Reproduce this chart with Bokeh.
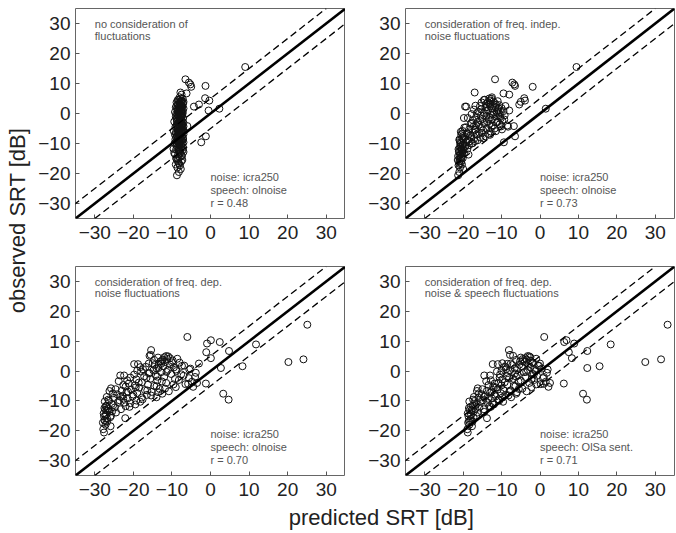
import math
from bokeh.plotting import figure
from bokeh.models import ColumnDataSource, Slope, Label, FixedTicker, Range1d
from bokeh.layouts import row, column
from bokeh.embed import file_html
from bokeh.resources import INLINE

# ---------------- data ----------------
ticks = [-30, -20, -10, 0, 10, 20, 30]
tick_labels = ["\u221230", "\u221220", "\u221210", "0", "10", "20", "30"]
axis_limits = (-35, 35)
band_db = [5, -5]

observed = [15.5, 11.4, 10.3, 9.7, 9.2, 8.9, 7.0, 6.7, 6.3, 5.1, 4.3, 3.9, 3.0, 2.3, 2.3, 1.6, 1.0, -1.5,
            -4.2, -7.6, -9.6, -15.8, -18.5, -20.6,
            -19.5, -18.0, -17.3, -16.5, -16.0, -15.2, -14.6, -14.2, -13.7, -13.5, -13.0, -12.6, -12.2, -12.0,
            -11.6, -11.2, -11.0, -10.6, -10.3, -10.0, -9.8, -9.5, -9.2, -9.0, -8.8, -8.5, -8.3, -8.0, -7.8,
            -7.6, -7.4, -7.2, -7.0, -6.8, -6.6, -6.4, -6.2, -6.0, -5.8, -5.6, -5.4, -5.2, -5.0, -4.8, -4.6,
            -4.4, -4.2, -4.0, -3.8, -3.6, -3.4, -3.2, -3.0, -2.8, -2.6, -2.4, -2.2, -2.0, -1.8, -1.6, -1.4,
            -1.2, -1.0, -0.8, -0.6, -0.4, -0.2, 0.0, 0.2, 0.4, 0.6, 0.8, 1.0, 1.2, 1.4, 1.6, 1.8, 2.0, 2.2,
            2.4, 2.6, 2.8, 3.0, 3.2, 3.5, 3.8, 4.0, 4.3, 4.6, 5.0, 5.4,
            -5.3, -4.0, -2.0, 0.5, 2.5, -4.3,
            -17.0, -15.5, -14.9, -13.9, -13.2, -12.8, -12.4, -11.8, -11.4, -10.8, -10.4, -9.9, -9.6, -9.3,
            -8.9, -8.6, -8.2, -7.9, -7.5, -7.1, -6.9, -6.5, -6.1, -5.9, -5.5, -5.1, -4.7, -4.5, -3.9, -3.5,
            -3.1, -2.7, -2.3, -1.9, -1.5, -1.1, -0.7, -0.3, 0.1, 0.5, 0.9, 1.3, 1.7, 2.1, 2.5, 2.9, 3.3, 3.7,
            4.1, 4.5, 4.9, -16.8, -15.0, -13.3, -11.9, -10.2, -8.7, -6.7]

pred_no_fluct = [9.0, -6.5, -5.6, -5.2, -1.3, -5.0, -7.8, -6.2, -7.5, -1.4, -0.3, -7.0, -3.0, -4.3, -7.5, 2.3,
                 -0.5, -8.0, -6.0, -1.2, -2.4, -8.5, -7.7, -8.7,
                 -8.2, -8.6, -7.9, -8.3, -7.6, -8.8, -8.0, -7.4, -8.4, -9.2, -7.8, -8.1, -7.2, -8.9, -7.7, -8.4,
                 -7.5, -8.0, -8.6, -7.3, -8.2, -7.9, -8.8, -7.6, -8.3, -7.1, -8.5, -7.8, -8.1, -7.4, -8.7, -7.9,
                 -8.2, -7.6, -8.0, -9.0, -7.3, -8.4, -7.7, -8.1, -7.5, -8.6, -7.9, -8.3, -7.2, -8.0, -8.8, -7.6,
                 -8.2, -7.4, -8.5, -7.8, -8.1, -7.3, -8.7, -7.9, -8.3, -7.6, -8.0, -7.2, -8.6, -7.8, -8.2, -7.5,
                 -8.4, -7.7, -8.9, -7.4, -8.1, -7.9, -8.5, -7.2, -8.0, -7.6, -8.3, -7.8, -8.7, -7.5, -8.2, -7.3,
                 -8.0, -7.7, -8.4, -7.9, -7.5, -8.1, -7.8, -7.6, -8.3, -7.7, -8.0,
                 -7.4, -8.6, -7.9, -8.3, -7.7, -7.0,
                 -9.0, -7.3, -8.9, -7.5, -9.4, -7.0, -8.3, -9.6, -7.1, -8.8, -7.6, -9.3, -7.0, -8.5, -7.4, -9.1,
                 -7.2, -8.9, -7.5, -9.2, -7.0, -8.6, -7.8, -9.5, -7.1, -8.4, -7.6, -9.1, -7.3, -8.7, -7.0, -9.4,
                 -7.6, -8.8, -7.1, -9.0, -7.4, -8.6, -7.2, -9.2, -7.5, -8.5, -7.0, -9.0, -7.4, -8.6, -7.1, -8.8,
                 -7.4, -8.5, -7.2, -8.1, -8.4, -8.0, -8.2, -8.0, -8.1, -8.3]

pred_freq_indep = [9.5, -11.7, -7.2, -6.7, -6.5, -1.9, -17.0, -9.5, -8.0, -4.1, -3.9, -5.0, -5.4, -19.5, -19.2,
                   1.5, -8.0, -19.8, -6.8, -6.5, -9.4, -20.5, -20.0, -21.3,
                   -21.0, -20.8, -21.2, -20.6, -21.0, -20.9, -20.4, -21.3, -18.6, -20.7, -20.2, -21.1, -19.9,
                   -20.5, -20.3, -19.6, -20.8, -18.5, -20.0, -17.8, -20.6, -19.2, -16.9, -20.9, -18.8, -17.2,
                   -20.2, -15.5, -19.5, -14.2, -18.1, -20.5, -16.5, -13.5, -19.0, -15.8, -17.6, -12.8, -20.2,
                   -14.8, -16.8, -18.4, -11.8, -15.2, -19.3, -8.3, -17.2, -12.2, -15.9, -10.5, -18.0, -14.5,
                   -11.2, -16.2, -13.8, -9.8, -17.5, -12.5, -15.0, -10.2, -13.0, -16.6, -11.5, -14.0, -9.2,
                   -12.8, -17.8, -10.8, -14.6, -12.0, -16.0, -9.5, -13.5, -11.0, -15.3, -12.4, -10.0, -14.2,
                   -11.6, -13.0, -16.8, -10.6, -12.9, -14.0, -11.8, -13.6, -12.2, -13.0, -14.4, -13.2, -12.5,
                   -9.9, -8.5, -9.3, -10.2, -9.0, -10.1,
                   -20.3, -21.4, -20.1, -20.9, -19.8, -21.0, -20.4, -18.9, -20.7, -19.4, -20.1, -17.5, -20.8,
                   -18.3, -16.2, -19.9, -14.8, -17.9, -20.0, -13.0, -18.6, -15.1, -20.6, -11.5, -17.0, -13.9,
                   -19.7, -12.6, -16.6, -13.2, -17.8, -11.0, -15.6, -13.4, -18.8, -10.4, -15.4, -12.2, -16.4,
                   -11.3, -14.0, -17.2, -10.8, -13.8, -15.6, -11.4, -13.2, -15.2, -11.0, -14.6, -12.6,
                   -21.0, -20.6, -20.4, -21.2, -20.7, -21.0, -20.3]

pred_freq_dep = [25.1, -6.0, 0.1, 2.4, -0.9, 11.8, -15.4, 4.8, -1.1, -15.8, 0.1, 24.1, 20.2, -19.8, -18.8, 8.3,
                 2.7, -23.4, -1.2, 3.3, 4.7, -22.1, -25.9, -27.6,
                 -27.8, -27.2, -27.9, -27.5, -26.8, -27.6, -27.0, -27.7, -26.2, -25.5, -27.3, -26.5, -24.8,
                 -21.0, -27.0, -19.5, -25.6, -22.4, -18.2, -26.3, -23.6, -17.6, -21.5, -25.0, -14.0, -20.2,
                 -22.8, -16.5, -24.2, -12.5, -19.0, -21.8, -15.2, -10.8, -23.0, -17.0, -20.6, -13.2, -25.8,
                 -18.5, -9.0, -22.0, -14.6, -19.6, -16.2, -6.5, -21.2, -11.5, -17.8, -4.8, -23.8, -13.8,
                 -8.2, -19.2, -15.6, -5.6, -20.8, -12.0, -17.2, -7.0, -14.2, -19.8, -10.2, -16.0, -3.8,
                 -12.8, -18.0, -8.8, -14.8, -11.0, -17.5, -5.2, -13.5, -9.5, -16.8, -12.2, -6.8, -14.5,
                 -10.5, -12.8, -15.0, -8.0, -11.8, -13.0, -9.8, -12.4, -11.2, -10.5, -12.0, -11.5, -15.5,
                 -4.5, -3.5, -4.0, -5.5, -3.0, -5.8,
                 -26.8, -26.0, -27.2, -24.5, -26.9, -23.2, -27.5, -22.0, -25.2, -20.8, -24.0, -19.2, -26.5,
                 -22.6, -17.8, -23.4, -15.4, -20.0, -25.3, -13.6, -21.4, -16.4, -24.6, -11.8, -19.4, -14.0,
                 -22.6, -9.6, -18.6, -12.6, -21.6, -9.2, -16.6, -13.8, -22.4, -7.6, -15.8, -11.4, -19.0,
                 -9.0, -14.0, -18.2, -7.4, -13.4, -16.0, -10.0, -12.6, -14.6, -8.6, -13.6, -11.0,
                 -27.3, -25.8, -26.6, -27.1, -27.4, -26.9, -26.2]

pred_freq_dep_speech = [33.2, 1.1, 6.9, 6.3, 8.9, 18.4, -8.1, 12.3, 7.5, -7.0, 8.3, 31.5, 27.4, -12.3, -11.0,
                        15.5, 12.3, -14.5, 6.2, 11.2, 12.2, -13.8, -17.7, -18.8,
                        -18.9, -18.4, -18.7, -18.2, -18.0, -18.6, -17.9, -18.8, -14.5, -17.2, -18.3, -16.8,
                        -15.8, -12.8, -17.5, -12.0, -16.5, -13.6, -9.6, -17.0, -14.8, -10.8, -12.5, -16.0,
                        -7.5, -11.5, -14.2, -9.0, -15.2, -6.2, -10.2, -13.0, -8.0, -3.5, -13.8, -9.5, -11.0,
                        -5.5, -16.2, -12.0, -2.2, -12.2, -6.8, -10.0, -8.5, 0.2, -11.8, -2.8, -9.2, 1.5,
                        -14.0, -5.0, -1.5, -9.8, -7.0, 0.8, -10.5, -3.8, -8.6, -0.8, -5.8, -10.4, -2.0, -6.5,
                        1.8, -4.2, -11.2, -1.2, -7.8, -3.2, -8.8, 0.5, -6.0, -2.5, -9.0, -4.8, -0.5, -7.2,
                        -3.0, -8.5, -9.8, -1.8, -4.0, -5.2, -2.6, -3.5, -4.5, -3.8, -2.5, -3.2, -7.8,
                        2.2, 2.6, 1.0, 2.0, 0.0, 1.0,
                        -17.6, -17.3, -18.1, -16.2, -17.8, -14.6, -18.5, -13.2, -16.8, -12.4, -15.5, -10.6,
                        -17.4, -13.5, -9.8, -14.6, -8.2, -11.8, -15.9, -6.0, -12.6, -7.6, -15.0, -4.6, -11.4,
                        -6.4, -13.4, -1.0, -10.8, -5.6, -12.8, -2.2, -8.0, -6.2, -13.0, -1.6, -8.4, -3.6,
                        -10.0, -1.4, -6.6, -9.4, -0.2, -5.4, -7.6, -2.0, -4.4, -6.2, -1.0, -5.0, -2.8,
                        -18.5, -16.6, -17.8, -18.0, -18.4, -17.2, -16.4]

panel_titles = [["no consideration of", "fluctuations"],
                ["consideration of freq. indep.", "noise fluctuations"],
                ["consideration of freq. dep.", "noise fluctuations"],
                ["consideration of freq. dep.", "noise & speech fluctuations"]]
panel_info = [["noise: icra250", "speech: olnoise", "r = 0.48"],
              ["noise: icra250", "speech: olnoise", "r = 0.73"],
              ["noise: icra250", "speech: olnoise", "r = 0.70"],
              ["noise: icra250", "speech: OlSa sent.", "r = 0.71"]]
x_title = "predicted SRT [dB]"
y_title = "observed SRT [dB]"

# ---------------- chart ----------------
FONT = "Liberation Sans"
n = min(len(observed), len(pred_no_fluct), len(pred_freq_indep), len(pred_freq_dep), len(pred_freq_dep_speech))
src = ColumnDataSource(dict(observed=observed[:n], p1=pred_no_fluct[:n], p2=pred_freq_indep[:n],
                            p3=pred_freq_dep[:n], p4=pred_freq_dep_speech[:n]))
overrides = {t: s for t, s in zip(ticks, tick_labels)}


def style_axis(ax, standoff):
    ax.ticker = FixedTicker(ticks=ticks)
    ax.major_label_overrides = overrides
    ax.axis_line_color = None
    ax.major_tick_in = 4
    ax.major_tick_out = 0
    ax.minor_tick_line_color = None
    ax.major_tick_line_color = "#555555"
    ax.major_label_text_font = FONT
    ax.major_label_text_color = "#222222"
    ax.major_label_text_font_size = "19px"
    ax.major_label_standoff = standoff


def make_panel(xcol, titles, info, width, height, mbl, mbr, mbt, mbb):
    p = figure(width=width, height=height, x_range=Range1d(*axis_limits), y_range=Range1d(*axis_limits),
               output_backend="svg", toolbar_location=None,
               min_border_left=mbl, min_border_right=mbr, min_border_top=mbt, min_border_bottom=mbb)
    p.grid.visible = False
    p.outline_line_color = "#666666"
    p.outline_line_width = 1
    for ax in p.xaxis:
        style_axis(ax, 7)
    for ax in p.yaxis:
        style_axis(ax, 5)

    p.add_layout(Slope(gradient=1, y_intercept=0, line_color="black", line_width=2.6))
    for b in band_db:
        p.add_layout(Slope(gradient=1, y_intercept=b, line_color="black", line_width=1.3, line_dash="7 4"))

    p.scatter(x=xcol, y="observed", source=src, marker="circle", size=7,
              fill_color=None, line_color="#111111", line_width=1)

    for i, t in enumerate(titles):
        p.add_layout(Label(x=-30, y=29.7 - 3.7 * i, text=t, text_font=FONT, text_font_size="11px",
                           text_color="#555555", text_baseline="middle", text_align="left"))
    for i, t in enumerate(info):
        p.add_layout(Label(x=0, y=-21.2 - 4.3 * i, text=t, text_font=FONT, text_font_size="11px",
                           text_color="#555555", text_baseline="middle", text_align="left"))
    return p


def label_fig(w, h):
    f = figure(width=w, height=h, x_range=Range1d(0, w), y_range=Range1d(0, h), output_backend="svg",
               toolbar_location=None, min_border=0, x_axis_location=None, y_axis_location=None)
    f.grid.visible = False
    f.outline_line_color = None
    return f


# page: y-title strip 0-35, panel frames x 73-345 / 405-674, y 8-218 / 266-475
f1 = make_panel("p1", panel_titles[0], panel_info[0], 310, 266, 38, 0, 8, 48)
f2 = make_panel("p2", panel_titles[1], panel_info[1], 330, 266, 60, 1, 8, 48)
f3 = make_panel("p3", panel_titles[2], panel_info[2], 310, 236, 38, 0, 0, 27)
f4 = make_panel("p4", panel_titles[3], panel_info[3], 330, 236, 60, 1, 0, 27)

yfig = label_fig(35, 532)
yfig.add_layout(Label(x=17, y=312, text=y_title, angle=math.pi / 2, text_align="center",
                      text_baseline="middle", text_font=FONT, text_font_size="22px", text_color="#222222"))
xfig = label_fig(640, 30)
xfig.add_layout(Label(x=346, y=15, text=x_title, text_align="center", text_baseline="middle",
                      text_font=FONT, text_font_size="22px", text_color="#222222"))

layout = row(yfig, column(row(f1, f2), row(f3, f4), xfig))

with open("out.html", "w") as fh:
    fh.write(file_html(layout, INLINE))
